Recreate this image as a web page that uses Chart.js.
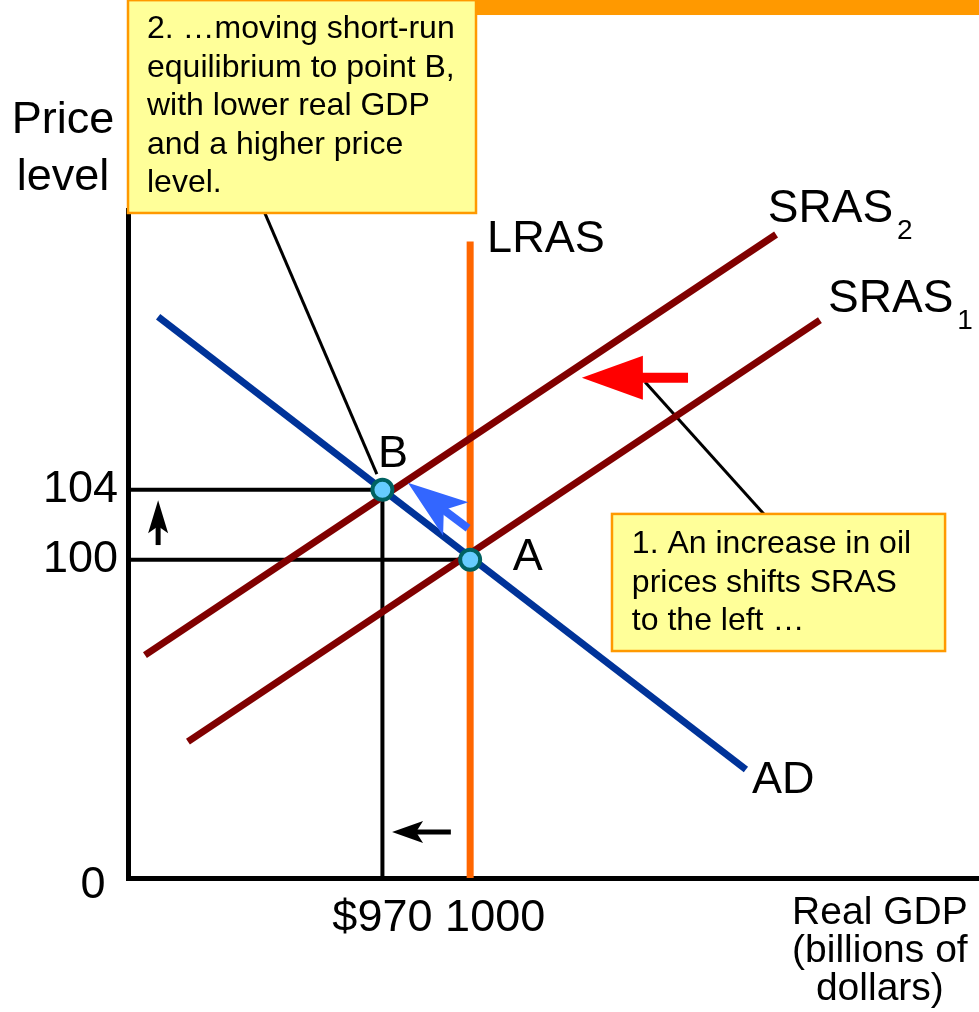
<!DOCTYPE html>
<html><head><meta charset="utf-8">
<script src="https://cdn.jsdelivr.net/npm/chart.js@4/dist/chart.umd.min.js"></script>
<style>html,body{margin:0;padding:0;background:#fff;overflow:hidden}canvas{display:block}</style>
</head><body>
<canvas id="c" width="979" height="1012"></canvas>
<script>
// ---------------- data ----------------
const gdpAxisRange = [883, 1174];
const priceAxisRange = [81.8, 120];
const gdpTickValues = [970, 1000];
const gdpTickLabels = ['$970', '1000'];
const priceTickValues = [81.8, 100, 104];
const priceTickLabels = ['0', '100', '104'];

const adGDP = [893.3, 1094.3];
const adPrice = [113.9, 88.0];
const sras1GDP = [903.5, 1119.6];
const sras1Price = [89.6, 113.7];
const sras2GDP = [888.8, 1104.6];
const sras2Price = [94.55, 118.6];
const lrasGDP = [1000, 1000];
const lrasPrice = [81.8, 118.2];

const eqLabels = ['A', 'B'];
const eqGDP = [1000, 970];
const eqPrice = [100, 104];

const guide104GDP = [883, 970];
const guide104Price = [104, 104];
const guide100GDP = [883, 1000];
const guide100Price = [100, 100];
const guide970GDP = [970, 970];
const guide970Price = [81.8, 104];

const leader2GDP = [929.5, 968.1];
const leader2Price = [119.94, 104.9];
const leader1GDP = [1059.8, 1100.5];
const leader1Price = [110.16, 102.6];

// arrows: [tipGDP, tipPrice, tailGDP, tailPrice]
const shiftArrow = [1038.2, 110.4, 1074.5, 110.4];
const moveArrow = [978.7, 104.4, 999.3, 101.8];
const priceUpArrow = [893.3, 103.4, 893.3, 100.84];
const gdpLeftArrow = [973.3, 84.43, 993.4, 84.43];

// text labels anchored in data coordinates
const curveLabels = ['A', 'B', 'LRAS', 'AD'];
const curveLabelGDP = [1014.6, 968.5, 1005.8, 1096.4];
const curveLabelPrice = [99.4, 105.3, 117.6, 86.66];
const srasLabels = ['SRAS', 'SRAS'];
const srasSubs = ['2', '1'];
const srasLabelGDP = [1101.8, 1122.4];
const srasLabelPrice = [119.3, 114.17];

const yTitleLines = ['Price', 'level'];
const yTitleAt = [860.8, 124.4];
const xTitleLines = ['Real GDP', '(billions of', 'dollars)'];
const xTitleAt = [1140.1, 79.17];

const box2Lines = ['2. \u2026moving short-run', 'equilibrium to point B,', 'with lower real GDP', 'and a higher price', 'level.'];
const box2Rect = [883, 132.0, 1002.0, 119.83];
const box2TextAt = [889.5, 129.84];
const box1Lines = ['1. An increase in oil', 'prices shifts SRAS', 'to the left \u2026'];
const box1Rect = [1048.5, 102.62, 1162.4, 94.78];
const box1TextAt = [1055.3, 100.39];
const topBarRect = [1002.3, 132.5, 1174, 131.15];

// ---------------- chart ----------------
const FONT = '"Liberation Sans", Arial, Helvetica, sans-serif';
const pts = (xs, ys) => xs.map((x, i) => ({x: x, y: ys[i]}));
const lineDs = (xs, ys, color, w) => ({
  data: pts(xs, ys), showLine: true, borderColor: color, borderWidth: w,
  pointRadius: 0, pointHoverRadius: 0, borderCapStyle: 'butt', fill: false, tension: 0
});

function drawArrow(ctx, tx, ty, bx, by, headLen, halfW, notch, shaftW, color) {
  const L = Math.hypot(bx - tx, by - ty);
  const ux = (bx - tx) / L, uy = (by - ty) / L;
  const nx = -uy, ny = ux;
  ctx.save();
  ctx.fillStyle = color;
  const s0 = Math.min(notch, headLen) - 2;
  ctx.beginPath();
  ctx.moveTo(tx + ux * s0 + nx * shaftW / 2, ty + uy * s0 + ny * shaftW / 2);
  ctx.lineTo(bx + nx * shaftW / 2, by + ny * shaftW / 2);
  ctx.lineTo(bx - nx * shaftW / 2, by - ny * shaftW / 2);
  ctx.lineTo(tx + ux * s0 - nx * shaftW / 2, ty + uy * s0 - ny * shaftW / 2);
  ctx.closePath();
  ctx.fill();
  ctx.beginPath();
  ctx.moveTo(tx, ty);
  ctx.lineTo(tx + ux * headLen + nx * halfW, ty + uy * headLen + ny * halfW);
  ctx.lineTo(tx + ux * notch, ty + uy * notch);
  ctx.lineTo(tx + ux * headLen - nx * halfW, ty + uy * headLen - ny * halfW);
  ctx.closePath();
  ctx.fill();
  ctx.restore();
}

const decorPlugin = {
  id: 'decor',
  afterDraw(chart) {
    const ctx = chart.ctx;
    const X = v => chart.scales.x.getPixelForValue(v);
    const Y = v => chart.scales.y.getPixelForValue(v);
    ctx.save();
    // top orange bar
    ctx.fillStyle = '#FF9900';
    ctx.fillRect(X(topBarRect[0]), 0, X(topBarRect[2]) - X(topBarRect[0]) + 2, Y(topBarRect[3]));
    // arrows
    const a = (arr, hl, hw, nt, sw, col) => drawArrow(ctx, X(arr[0]), Y(arr[1]), X(arr[2]), Y(arr[3]), hl, hw, nt, sw, col);
    a(shiftArrow, 61, 22, 61, 10, '#FF0000');
    a(moveArrow, 60, 21, 45, 8, '#3366FF');
    a(priceUpArrow, 33, 10, 26, 5, '#000000');
    a(gdpLeftArrow, 31, 11, 24, 5, '#000000');
    // curve labels
    ctx.fillStyle = '#000';
    ctx.textBaseline = 'alphabetic';
    ctx.textAlign = 'left';
    ctx.font = '45px ' + FONT;
    curveLabels.forEach((t, i) => ctx.fillText(t, X(curveLabelGDP[i]), Y(curveLabelPrice[i])));
    srasLabels.forEach((t, i) => {
      const x = X(srasLabelGDP[i]), y = Y(srasLabelPrice[i]);
      ctx.font = '46px ' + FONT;
      ctx.fillText(t, x, y);
      const w = ctx.measureText(t).width;
      ctx.font = '28px ' + FONT;
      ctx.fillText(srasSubs[i], x + w + 4, y + 17);
    });
    // axis titles
    ctx.textAlign = 'center';
    ctx.font = '45px ' + FONT;
    yTitleLines.forEach((t, i) => ctx.fillText(t, X(yTitleAt[0]), Y(yTitleAt[1]) + i * 57));
    ctx.font = '39px ' + FONT;
    xTitleLines.forEach((t, i) => ctx.fillText(t, X(xTitleAt[0]), Y(xTitleAt[1]) + i * 38));
    // callout boxes
    const box = (r, lines, at) => {
      const x0 = X(r[0]), y0 = Y(r[1]), x1 = X(r[2]), y1 = Y(r[3]);
      ctx.fillStyle = '#FFFF99';
      ctx.fillRect(x0, y0, x1 - x0, y1 - y0);
      ctx.strokeStyle = '#FF9900';
      ctx.lineWidth = 2.5;
      ctx.strokeRect(x0, y0, x1 - x0, y1 - y0);
      ctx.fillStyle = '#000';
      ctx.textAlign = 'left';
      ctx.font = '32px ' + FONT;
      lines.forEach((t, i) => ctx.fillText(t, X(at[0]), Y(at[1]) + i * 38.6));
    };
    box(box2Rect, box2Lines, box2TextAt);
    box(box1Rect, box1Lines, box1TextAt);
    ctx.restore();
  }
};

const isMin = v => Math.abs(v - priceAxisRange[0]) < 1e-6;

new Chart(document.getElementById('c'), {
  type: 'scatter',
  data: {
    datasets: [
      {data: pts(eqGDP, eqPrice), pointRadius: 10, pointHoverRadius: 10, pointBackgroundColor: '#66CCFF',
       pointBorderColor: '#006262', pointBorderWidth: 4, showLine: false},
      lineDs(adGDP, adPrice, '#003399', 7),
      lineDs(sras1GDP, sras1Price, '#800000', 7),
      lineDs(sras2GDP, sras2Price, '#800000', 7),
      lineDs(lrasGDP, lrasPrice, '#FF6600', 7),
      lineDs(guide104GDP, guide104Price, '#000000', 4),
      lineDs(guide100GDP, guide100Price, '#000000', 4),
      lineDs(guide970GDP, guide970Price, '#000000', 4),
      lineDs(leader2GDP, leader2Price, '#000000', 3),
      lineDs(leader1GDP, leader1Price, '#000000', 3)
    ]
  },
  options: {
    responsive: false,
    animation: false,
    layout: {autoPadding: false, padding: {top: 210, left: 0, right: 0, bottom: 0}},
    plugins: {legend: {display: false}, tooltip: {enabled: false}},
    events: [],
    scales: {
      x: {
        type: 'linear', min: gdpAxisRange[0], max: gdpAxisRange[1],
        grid: {display: false, drawTicks: false},
        border: {display: true, color: '#000', width: 5},
        afterBuildTicks: s => { s.ticks = gdpTickValues.map(v => ({value: v})); },
        afterFit: s => { s.height = 134; },
        ticks: {
          autoSkip: false, maxRotation: 0, padding: 14, color: '#000',
          font: {family: FONT, size: 45},
          callback: v => {
            const i = gdpTickValues.indexOf(v);
            return i === 1 ? '    ' + gdpTickLabels[i] : gdpTickLabels[i];
          }
        }
      },
      y: {
        type: 'linear', min: priceAxisRange[0], max: priceAxisRange[1],
        grid: {display: false, drawTicks: false},
        border: {display: true, color: '#000', width: 5},
        afterBuildTicks: s => { s.ticks = priceTickValues.map(v => ({value: v})); },
        afterFit: s => { s.width = 128; },
        ticks: {
          autoSkip: false, padding: 10, color: '#000',
          font: c => (c.tick && isMin(c.tick.value)) ? {family: FONT, size: 45, lineHeight: '16px'} : {family: FONT, size: 45},
          callback: v => {
            const i = priceTickValues.findIndex(t => Math.abs(t - v) < 1e-6);
            return i === 0 ? ['', priceTickLabels[0] + ' '] : priceTickLabels[i];
          }
        }
      }
    }
  },
  plugins: [decorPlugin]
});
</script>
</body></html>
